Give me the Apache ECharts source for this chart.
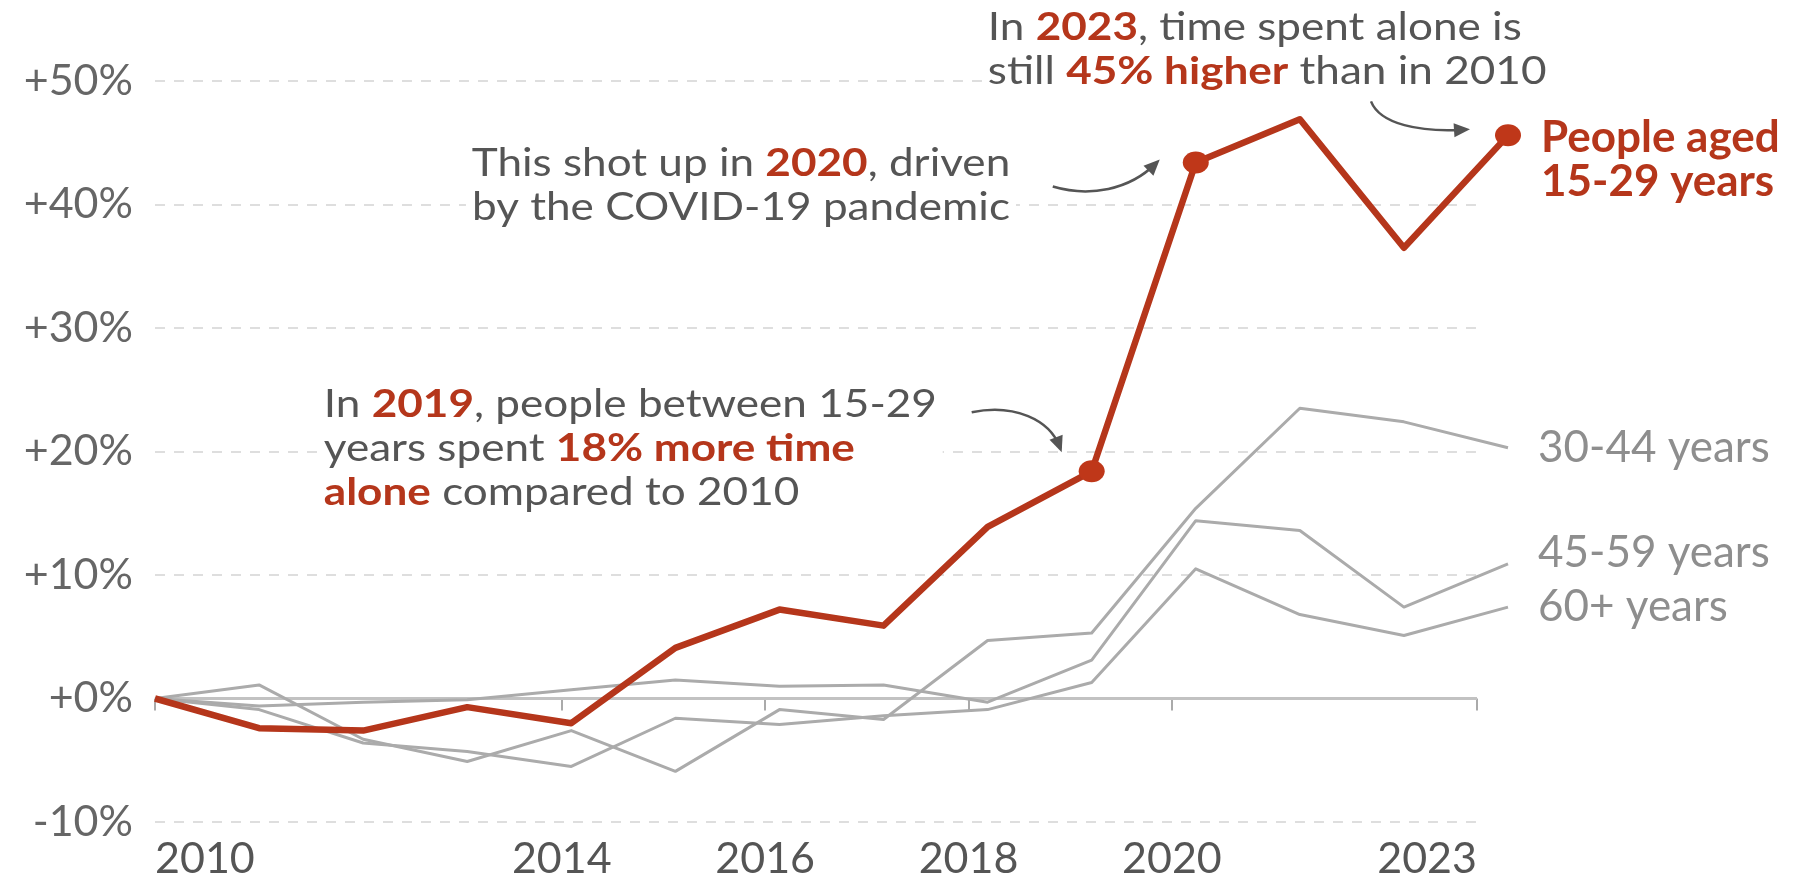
<!DOCTYPE html>
<html><head><meta charset="utf-8">
<script src="https://cdn.jsdelivr.net/npm/echarts@6/dist/echarts.min.js"></script>
<style>html,body{margin:0;padding:0;background:#fff}#c{width:1796px;height:880px}</style>
</head><body><div id="c"></div>
<script>
// ---- data ----
const years = ['2010','2011','2012','2013','2014','2015','2016','2017','2018','2019','2020','2021','2022','2023'];
const age15_29 = [0, -2.4, -2.6, -0.7, -2.0, 4.1, 7.2, 5.9, 13.9, 18.4, 43.4, 46.9, 36.5, 45.6];
const age30_44 = [0, 1.1, -3.3, -5.1, -2.6, -5.9, -0.9, -1.7, 4.7, 5.3, 15.4, 23.5, 22.4, 20.3];
const age45_59 = [0, -0.6, -0.3, -0.1, 0.7, 1.5, 1.0, 1.1, -0.3, 3.1, 14.4, 13.6, 7.4, 10.9];
const age60plus = [0, -0.9, -3.6, -4.3, -5.5, -1.6, -2.1, -1.4, -0.9, 1.3, 10.5, 6.8, 5.1, 7.4];
const xTickYears = [2010, 2014, 2016, 2018, 2020, 2023];
const yTicks = [-10, 0, 10, 20, 30, 40, 50];
const highlightYears = ['2019', '2020', '2023'];
const seriesNames = ['People aged\n15-29 years', '30-44 years', '45-59 years', '60+ years'];

// ---- style ----
const FONT = 'Lato';
const FS = 43;          // axis labels
const EFS = 44;         // end labels
const NFS = 38;         // annotation font
const NSX = 1.16;       // annotation horizontal stretch
const RED = '#b5361b';
const DOT = '#bf3719';
const GRAY_LINE = '#ababab';
const GRAY_LABEL = '#8e8e8e';
const TEXT = '#555555';

const chart = echarts.init(document.getElementById('c'), null, {renderer: 'canvas'});

function grayLine(name, data, off) {
  return {
    type: 'line', name: name, xAxisIndex: 1, yAxisIndex: 1, data: data,
    symbol: 'none', silent: true, z: 3,
    lineStyle: {color: GRAY_LINE, width: 3, join: 'round'},
    endLabel: {show: true, formatter: name, color: GRAY_LABEL, fontFamily: FONT, fontSize: EFS,
               distance: 30, offset: [0, off]}
  };
}

const option = {
  animation: false,
  backgroundColor: '#ffffff',
  grid: [
    {left: 155, right: 319, top: 81, bottom: 58, outerBoundsMode: 'none', containLabel: false},
    {left: 155, right: 288, top: 81, bottom: 58, outerBoundsMode: 'none', containLabel: false}
  ],
  xAxis: [
    {type: 'value', gridIndex: 0, min: xTickYears[0], max: xTickYears[xTickYears.length - 1],
     axisLine: {show: false}, splitLine: {show: false},
     axisTick: {show: true, customValues: xTickYears, length: 12, lineStyle: {color: '#aaaaaa', width: 2}},
     axisLabel: {show: true, customValues: xTickYears, formatter: v => String(v),
                 alignMinLabel: 'left', alignMaxLabel: 'right',
                 color: TEXT, fontFamily: FONT, fontSize: FS, margin: 16}},
    {type: 'category', gridIndex: 1, data: years, boundaryGap: false, show: false}
  ],
  yAxis: [
    {type: 'value', gridIndex: 0, min: yTicks[0], max: yTicks[yTicks.length - 1], interval: 10,
     axisLine: {show: false}, axisTick: {show: false},
     axisLabel: {formatter: v => (v >= 0 ? '+' : '') + v + '%', color: '#666666',
                 fontFamily: FONT, fontSize: FS, margin: 22},
     splitLine: {show: true, lineStyle: {color: '#d4d4d4', width: 1.5, type: [10, 9]}}},
    {type: 'value', gridIndex: 1, min: yTicks[0], max: yTicks[yTicks.length - 1], show: false,
     splitLine: {show: false}}
  ],
  series: [
    {type: 'line', xAxisIndex: 0, yAxisIndex: 0, silent: true, symbol: 'none', z: 2,
     data: [[xTickYears[0], 0], [xTickYears[xTickYears.length - 1], 0]],
     lineStyle: {color: '#c2c2c2', width: 3}},
    grayLine(seriesNames[1], age30_44, 0),
    grayLine(seriesNames[2], age45_59, -11),
    grayLine(seriesNames[3], age60plus, 0),
    {type: 'line', name: seriesNames[0], xAxisIndex: 1, yAxisIndex: 1, data: age15_29,
     symbol: 'none', silent: true, z: 5,
     lineStyle: {color: RED, width: 6.5, join: 'round'},
     endLabel: {show: true, formatter: seriesNames[0], color: RED, fontFamily: FONT, fontSize: EFS,
                fontWeight: 'bold', lineHeight: 44, distance: 33, offset: [0, 24]}},
    {type: 'scatter', xAxisIndex: 1, yAxisIndex: 1, silent: true, z: 6,
     data: highlightYears.map(y => [years.indexOf(y), age15_29[years.indexOf(y)]]),
     symbol: 'circle', symbolSize: [26, 22], itemStyle: {color: DOT, opacity: 1}}
  ]
};
chart.setOption(option);

// ---- annotations ----
const rich = {
  g: {fill: TEXT, fontFamily: FONT, fontSize: NFS, lineHeight: 44},
  r: {fill: RED, fontFamily: FONT, fontSize: NFS, lineHeight: 44, fontWeight: 'bold'}
};
function note(x, y, text, align) {
  return {type: 'text', x: x, y: y, z: 50, silent: true, scaleX: NSX,
          style: {text: text, rich: rich, fill: TEXT, fontFamily: FONT, fontSize: NFS,
                  lineHeight: 44, align: align || 'left', verticalAlign: 'top',
                  backgroundColor: '#ffffff', padding: [0, 5]}};
}
function pt(y) {
  const i = years.indexOf(y);
  return chart.convertToPixel({xAxisIndex: 1, yAxisIndex: 1}, [i, age15_29[i]]);
}
function arrow(p, s, c1, c2, e) {
  const ax = p[0] + e[0], ay = p[1] + e[1];
  const bx = p[0] + c2[0], by = p[1] + c2[1];
  const dx = ax - bx, dy = ay - by, L = Math.hypot(dx, dy) || 1;
  const ux = dx / L, uy = dy / L, len = 16, hw = 7;
  const baseX = ax - ux * len, baseY = ay - uy * len;
  return [
    {type: 'bezierCurve', z: 40, silent: true,
     shape: {x1: p[0] + s[0], y1: p[1] + s[1], cpx1: p[0] + c1[0], cpy1: p[1] + c1[1],
             cpx2: bx, cpy2: by, x2: ax - ux * 6, y2: ay - uy * 6},
     style: {stroke: '#555555', lineWidth: 2.5, fill: null}},
    {type: 'polygon', z: 40, silent: true,
     shape: {points: [[ax, ay], [baseX - uy * hw, baseY + ux * hw], [baseX + uy * hw, baseY - ux * hw]]},
     style: {fill: '#555555'}}
  ];
}
const p19 = pt('2019'), p20 = pt('2020'), p23 = pt('2023');
chart.setOption({
  graphic: [
    note(318, 383, '{g|In }{r|2019}{g|, people between 15-29}\n{g|years spent }{r|18% more time}\n{r|alone}{g| compared to 2010}'),
    note(741, 142, '{g|This shot up in }{r|2020}{g|, driven}\n{g|by the COVID-19 pandemic}', 'center'),
    note(982, 6, '{g|In }{r|2023}{g|, time spent alone is}\n{g|still }{r|45% higher}{g| than in 2010}'),
    ...arrow(p19, [-120, -59], [-77, -68], [-42, -51], [-30, -19]),
    ...arrow(p20, [-143, 24], [-106, 35], [-66, 27], [-36, -3]),
    ...arrow(p23, [-137, -34], [-128, -11], [-88, -3], [-38, -6])
  ]
});
</script>
</body></html>
